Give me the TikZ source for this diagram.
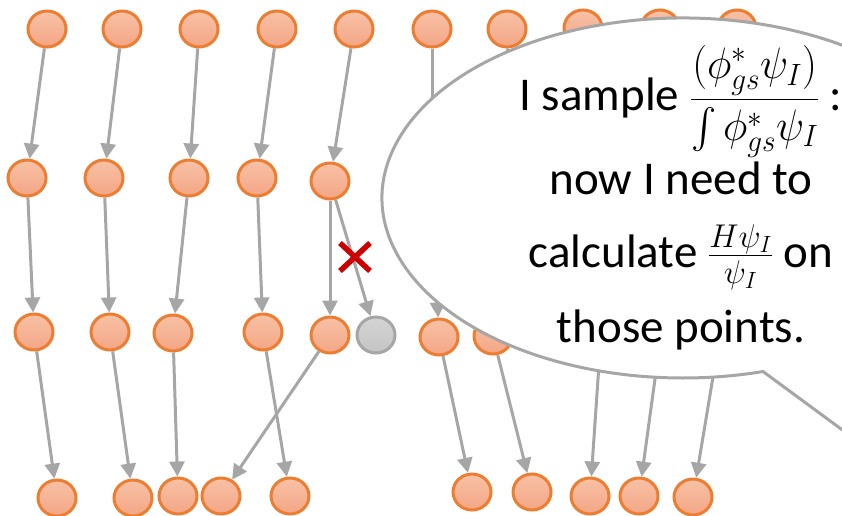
\RequirePackage{fix-cm}
\documentclass[tikz,border=0pt]{standalone}
\usepackage{amsmath}
\usepackage{exscale}
\usepackage{graphicx}
\usepackage{fontspec}
\setmainfont{Carlito}
\usetikzlibrary{shapes.geometric,arrows.meta,calc}
\definecolor{nodeor}{RGB}{237,125,49}
\definecolor{nodetop}{RGB}{248,193,166}
\definecolor{nodebot}{RGB}{243,166,133}
\definecolor{linegray}{RGB}{166,166,166}
\definecolor{graytop}{RGB}{212,212,212}
\definecolor{graybot}{RGB}{196,196,196}
\definecolor{xred}{RGB}{204,0,0}
\newcommand{\bigintegral}{\mathop{\vcenter{\hbox{\scalebox{1.6}{$\int$}}}}}
\tikzset{
  nd/.style={ellipse, minimum width=38pt, minimum height=36pt, inner sep=0pt,
    draw=nodeor, line width=3pt, top color=nodetop, bottom color=nodebot},
  gnd/.style={ellipse, minimum width=38pt, minimum height=36pt, inner sep=0pt,
    draw=linegray, line width=3pt, top color=graytop, bottom color=graybot},
  arr/.style={draw=linegray, line width=3pt, -{Triangle[length=15pt,width=15pt]}},
  ln/.style={draw=linegray, line width=3pt},
  bubble/.style={draw=linegray, line width=3pt, fill=white},
  txt/.style={inner sep=0pt, anchor=base, font=\fontsize{47}{56}\selectfont},
  xmark/.style={draw=xred, line width=5.5pt}
}
\begin{document}
\begin{tikzpicture}[x=1pt,y=-1pt]
\useasboundingbox (0,0) rectangle (842,515);
\clip (0,0) rectangle (842,515);
% row 1
\node[nd] (a1) at (47,29) {};
\node[nd] (a2) at (122,29) {};
\node[nd] (a3) at (199,29) {};
\node[nd] (a4) at (277,29) {};
\node[nd] (a5) at (354,29) {};
\node[nd] (a6) at (432,29) {};
\node[nd] (a7) at (507,29) {};
\node[nd] (a8) at (583,28) {};
\node[nd] (a9) at (660,28) {};
\node[nd] (a10) at (737,28) {};
% row 2
\node[nd] (b1) at (27,178) {};
\node[nd] (b2) at (104,178) {};
\node[nd] (b3) at (189,178) {};
\node[nd] (b4) at (257,178) {};
\node[nd] (b5) at (330,181) {};
\coordinate (b6) at (432,178);
\coordinate (b7) at (512,178);
% row 3
\node[nd] (c1) at (34,332) {};
\node[nd] (c2) at (110,332) {};
\node[nd] (c3) at (173,333) {};
\node[nd] (c4) at (263,332) {};
\node[nd] (c5) at (330,335) {};
\node[gnd] (g) at (376,335) {};
\node[nd] (c6) at (439,337) {};
\node[nd] (c7) at (493,336) {};
\coordinate (c8) at (601,335);
\coordinate (c9) at (661,335);
\coordinate (c10) at (720,335);
% row 4
\node[nd] (d1) at (57,498) {};
\node[nd] (d2) at (133,498) {};
\node[nd] (d3) at (178,496) {};
\node[nd] (d4) at (221,496) {};
\node[nd] (d5) at (290,496) {};
\node[nd] (d6) at (472,492) {};
\node[nd] (d7) at (532,492) {};
\node[nd] (d8) at (590,496) {};
\node[nd] (d9) at (639,496) {};
\node[nd] (d10) at (693,497) {};
% connectors
\draw[arr] (a1) -- (b1);
\draw[arr] (a2) -- (b2);
\draw[arr] (a3) -- (b3);
\draw[arr] (a4) -- (b4);
\draw[arr] (a5) -- (b5);
\draw[ln] (a6) -- (b6);
\draw[ln] (a7) -- (b7);
\draw[arr] (b1) -- (c1);
\draw[arr] (b2) -- (c2);
\draw[arr] (b3) -- (c3);
\draw[arr] (b4) -- (c4);
\draw[arr] (b5) -- (c5);
\draw[arr] (b5) -- (g);
\draw[arr] (b6) -- (c6);
\draw[arr] (c1) -- (d1);
\draw[arr] (c2) -- (d2);
\draw[arr] (c3) -- (d3);
\draw[arr] (c4) -- (d5);
\draw[arr] (c5) -- (d4);
\draw[arr] (c6) -- (d6);
\draw[arr] (c7) -- (d7);
\draw[arr] (c8) -- (d8);
\draw[arr] (c9) -- (d9);
\draw[arr] (c10) -- (d10);
% red cross
\coordinate (xc) at (355,257);
\draw[xmark] (xc) ++(-15,-14) -- ++(30,28);
\draw[xmark] (xc) ++(-15,14) -- ++(30,-28);
% speech bubble
\coordinate (bc) at (683,198);
\path[bubble] (763,371.5) -- (1000,546) -- ($(bc)+(20:301 and 180)$) arc[start angle=20, end angle=-285.4, x radius=301, y radius=180] -- cycle;
% text
\node[txt] (l1) at (681,110) {I sample {\fontsize{44}{50}\selectfont\scalebox{0.95}[1]{$\dfrac{(\phi^*_{gs}\psi_I)}{\bigintegral\phi^*_{gs}\psi_I}$}} :};
\node[txt] (l2) at (681,194) {now I need to};
\node[txt] (l3) at (681,267) {calculate $\frac{H\psi_I}{\psi_I}$ on};
\node[txt] (l4) at (681,342) {those points.};
\end{tikzpicture}
\end{document}
